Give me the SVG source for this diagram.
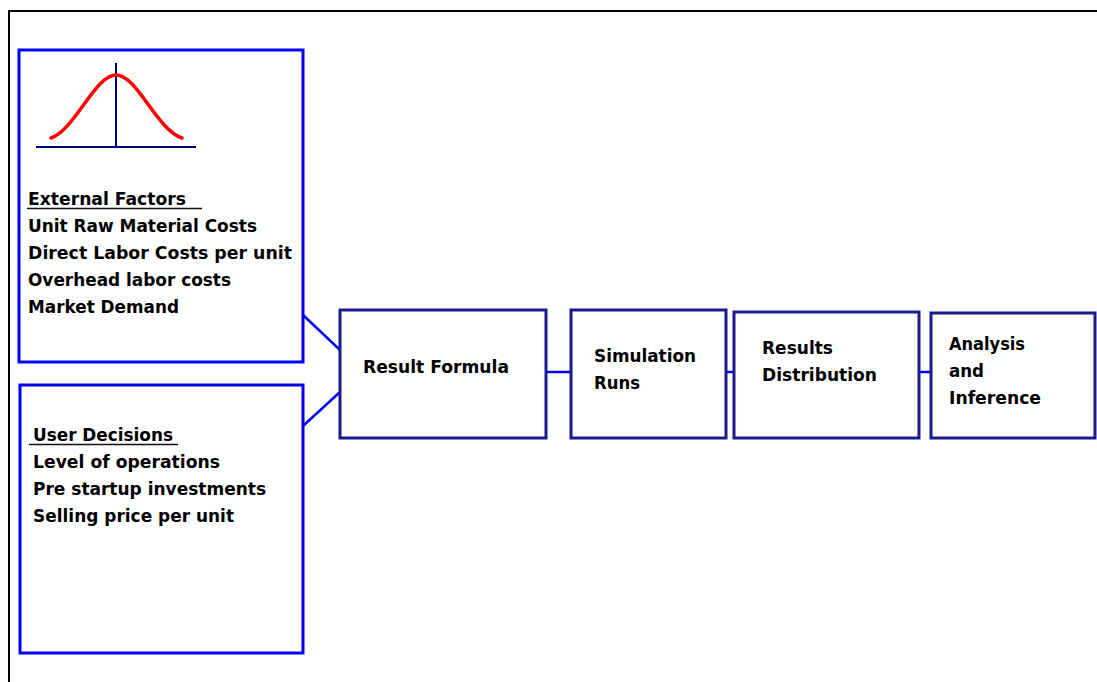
<svg xmlns="http://www.w3.org/2000/svg" width="1097" height="682" viewBox="0 0 1097 682">
<style>
.bg{fill:#ffffff}
.frame{fill:none;stroke:#000000;stroke-width:2}
.inbox{fill:#ffffff;stroke:#0000f0;stroke-width:3}
.pbox{fill:#ffffff;stroke:#1a1a8f;stroke-width:3}
.conn{fill:none;stroke:#0000ff;stroke-width:2.5}
.t{font-family:"DejaVu Sans","Liberation Sans",sans-serif;font-weight:bold;font-size:17px;fill:#000000}
.ul{stroke:#111111;stroke-width:1.5}
.axis{stroke:#000080;stroke-width:2;fill:none}
.curve{stroke:#ff0000;stroke-width:3.5;fill:none;stroke-linecap:round}
</style>
<rect class="bg" x="0" y="0" width="1097" height="682"/>
<path class="frame" d="M9,682 V11 H1097"/>
<g id="connectors">
<line class="conn" x1="303" y1="315" x2="340" y2="350"/>
<line class="conn" x1="303" y1="426" x2="340" y2="392"/>
<line class="conn" x1="546" y1="372" x2="571" y2="372"/>
<line class="conn" x1="726" y1="372" x2="734" y2="372"/>
<line class="conn" x1="919" y1="372" x2="930" y2="372"/>
</g>
<g id="external-factors">
<rect class="inbox" x="19" y="50" width="284" height="312"/>
<line class="axis" x1="36" y1="147" x2="196" y2="147"/>
<line class="axis" x1="116" y1="63" x2="116" y2="147"/>
<path class="curve" d="M51,138 C75,130 95,75 116,75 C137,75 157,130 182,138"/>
<text class="t" x="28" y="205" textLength="158" lengthAdjust="spacingAndGlyphs">External Factors</text>
<line class="ul" x1="27" y1="208.5" x2="202" y2="208.5"/>
<text class="t" x="28" y="232" textLength="229" lengthAdjust="spacingAndGlyphs">Unit Raw Material Costs</text>
<text class="t" x="28" y="259" textLength="264" lengthAdjust="spacingAndGlyphs">Direct Labor Costs per unit</text>
<text class="t" x="28" y="286" textLength="203" lengthAdjust="spacingAndGlyphs">Overhead labor costs</text>
<text class="t" x="28" y="313" textLength="151" lengthAdjust="spacingAndGlyphs">Market Demand</text>
</g>
<g id="user-decisions">
<rect class="inbox" x="20" y="385" width="283" height="268"/>
<text class="t" x="33" y="441" textLength="140" lengthAdjust="spacingAndGlyphs">User Decisions</text>
<line class="ul" x1="29" y1="444.5" x2="178" y2="444.5"/>
<text class="t" x="33" y="468" textLength="187" lengthAdjust="spacingAndGlyphs">Level of operations</text>
<text class="t" x="33" y="495" textLength="233" lengthAdjust="spacingAndGlyphs">Pre startup investments</text>
<text class="t" x="33" y="522" textLength="201" lengthAdjust="spacingAndGlyphs">Selling price per unit</text>
</g>
<g id="result-formula">
<rect class="pbox" x="340" y="310" width="206" height="128"/>
<text class="t" x="363" y="373" textLength="146" lengthAdjust="spacingAndGlyphs">Result Formula</text>
</g>
<g id="simulation-runs">
<rect class="pbox" x="571" y="310" width="155" height="128"/>
<text class="t" x="594" y="362" textLength="102" lengthAdjust="spacingAndGlyphs">Simulation</text>
<text class="t" x="594" y="389" textLength="46" lengthAdjust="spacingAndGlyphs">Runs</text>
</g>
<g id="results-distribution">
<rect class="pbox" x="734" y="312" width="185" height="126"/>
<text class="t" x="762" y="354" textLength="71" lengthAdjust="spacingAndGlyphs">Results</text>
<text class="t" x="762" y="381" textLength="115" lengthAdjust="spacingAndGlyphs">Distribution</text>
</g>
<g id="analysis-inference">
<rect class="pbox" x="931" y="313" width="164" height="125"/>
<text class="t" x="949" y="350" textLength="76" lengthAdjust="spacingAndGlyphs">Analysis</text>
<text class="t" x="949" y="377" textLength="35" lengthAdjust="spacingAndGlyphs">and</text>
<text class="t" x="949" y="404" textLength="92" lengthAdjust="spacingAndGlyphs">Inference</text>
</g>
</svg>
